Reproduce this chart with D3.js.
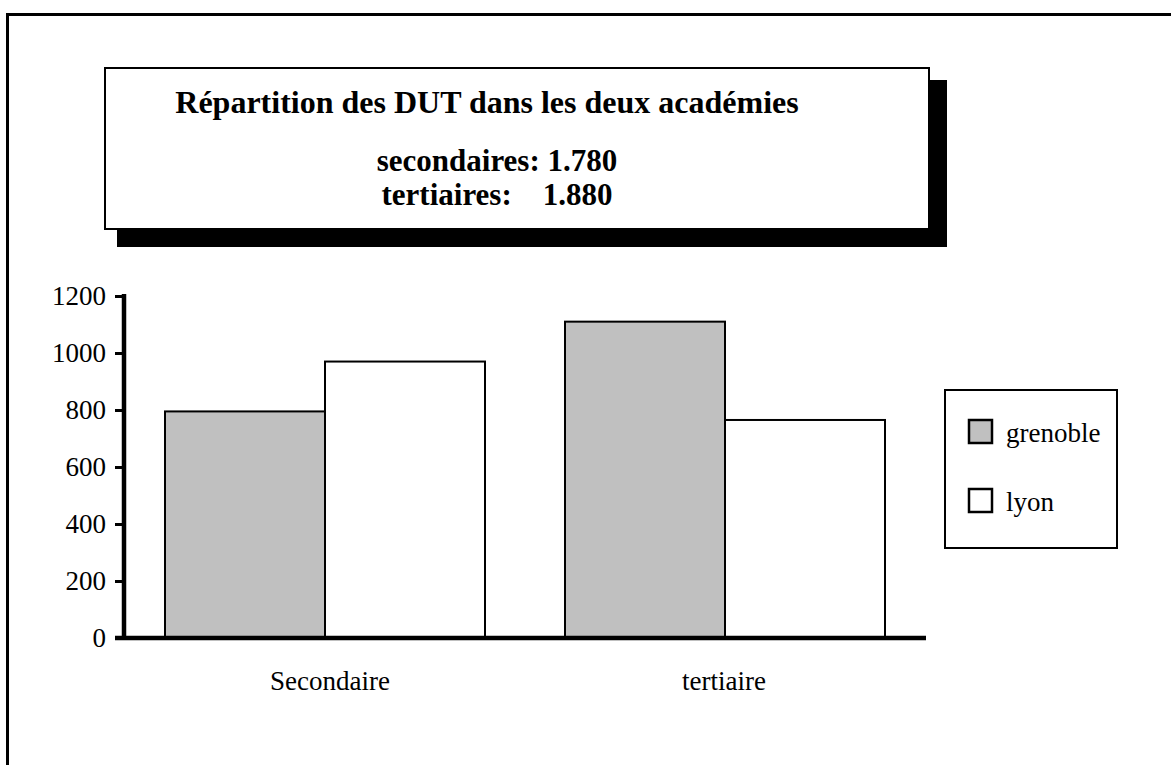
<!DOCTYPE html>
<html>
<head>
<meta charset="utf-8">
<script src="https://cdn.jsdelivr.net/npm/d3@7"></script>
<style>
body { margin: 0; background: #fff; }
text { font-family: "Liberation Serif", "Times New Roman", serif; }
</style>
</head>
<body>
<div id="chart"></div>
<script>
var categories = ["Secondaire", "tertiaire"];
var series = ["grenoble", "lyon"];
var grenoble = [795, 1110];
var lyon = [970, 765];
var yTicks = [0, 200, 400, 600, 800, 1000, 1200];
var titleLines = ["Répartition des DUT dans les deux académies", "secondaires: 1.780", "tertiaires:    1.880"];
var colors = {grenoble: "#c0c0c0", lyon: "#ffffff"};

var width = 1171, height = 765;
var serif = "'Liberation Serif', 'Times New Roman', serif";

var svg = d3.select("#chart").append("svg")
    .attr("width", width)
    .attr("height", height);

// page frame
svg.append("rect")
    .attr("x", 7.5).attr("y", 14.5)
    .attr("width", 1200).attr("height", 800)
    .attr("fill", "none").attr("stroke", "#000").attr("stroke-width", 3);

// title box with shadow
svg.append("rect")
    .attr("x", 117).attr("y", 80).attr("width", 830).attr("height", 167)
    .attr("fill", "#000");
svg.append("rect")
    .attr("x", 105).attr("y", 68).attr("width", 824).attr("height", 161)
    .attr("fill", "#fff").attr("stroke", "#000").attr("stroke-width", 2);

var titleY = [113, 171, 205];
var titleX = [487, 497, 497];
var titleSize = [32, 31, 31];
svg.selectAll(".ttl")
    .data(titleLines)
    .enter().append("text")
    .attr("class", "ttl")
    .attr("x", (d, i) => titleX[i])
    .attr("y", (d, i) => titleY[i])
    .attr("text-anchor", "middle")
    .style("font-size", (d, i) => titleSize[i] + "px")
    .style("font-weight", "bold")
    .style("white-space", "pre")
    .text(d => d);

// scales
var x0 = d3.scaleBand()
    .domain(categories)
    .range([124, 924])
    .paddingInner(0.2)
    .paddingOuter(0.1);

var x1 = d3.scaleBand()
    .domain(series)
    .range([0, x0.bandwidth()]);

var y = d3.scaleLinear()
    .domain([0, 1200])
    .range([638, 296]);

var data = categories.map(function(c, i) {
    return {cat: c, values: [{key: "grenoble", v: grenoble[i]}, {key: "lyon", v: lyon[i]}]};
});

// bars
var groups = svg.selectAll(".grp")
    .data(data)
    .enter().append("g")
    .attr("class", "grp")
    .attr("transform", d => "translate(" + x0(d.cat) + ",0)");

groups.selectAll("rect")
    .data(d => d.values)
    .enter().append("rect")
    .attr("x", d => x1(d.key) + 1)
    .attr("y", d => y(d.v))
    .attr("width", x1.bandwidth())
    .attr("height", d => y(0) - y(d.v))
    .attr("fill", d => colors[d.key])
    .attr("stroke", "#000")
    .attr("stroke-width", 2);

// y axis
var yAxis = svg.append("g")
    .attr("transform", "translate(124,0)")
    .call(d3.axisLeft(y).tickValues(yTicks).tickSize(9).tickPadding(9).tickFormat(d3.format("d")));
yAxis.select(".domain").remove();
yAxis.selectAll(".tick line").attr("stroke", "#000").attr("stroke-width", 3);
yAxis.selectAll(".tick text")
    .attr("fill", "#000")
    .attr("dy", "0.33em")
    .style("font-size", "27px")
    .style("font-family", serif);

svg.append("line")
    .attr("x1", 124).attr("x2", 124)
    .attr("y1", 294).attr("y2", 640)
    .attr("stroke", "#000").attr("stroke-width", 4.5);

// x axis
var xAxis = svg.append("g")
    .attr("transform", "translate(0,638)")
    .call(d3.axisBottom(x0).tickSize(0).tickPadding(0));
xAxis.select(".domain").remove();
xAxis.selectAll(".tick text")
    .attr("fill", "#000")
    .attr("y", 52)
    .attr("dy", 0)
    .attr("dx", (d, i) => i === 0 ? 6 : 0)
    .style("font-size", "27px")
    .style("font-family", serif);

svg.append("line")
    .attr("x1", 115).attr("x2", 926)
    .attr("y1", 638).attr("y2", 638)
    .attr("stroke", "#000").attr("stroke-width", 4.5);

// legend
svg.append("rect")
    .attr("x", 945).attr("y", 390).attr("width", 172).attr("height", 158)
    .attr("fill", "#fff").attr("stroke", "#000").attr("stroke-width", 2);

var legend = svg.selectAll(".leg")
    .data(series)
    .enter().append("g")
    .attr("class", "leg")
    .attr("transform", (d, i) => "translate(969," + (420 + i * 69) + ")");

legend.append("rect")
    .attr("width", 23).attr("height", 23)
    .attr("fill", d => colors[d])
    .attr("stroke", "#000").attr("stroke-width", 2.5);

legend.append("text")
    .attr("x", 37).attr("y", 22)
    .style("font-size", "27px")
    .text(d => d);
</script>
</body>
</html>
